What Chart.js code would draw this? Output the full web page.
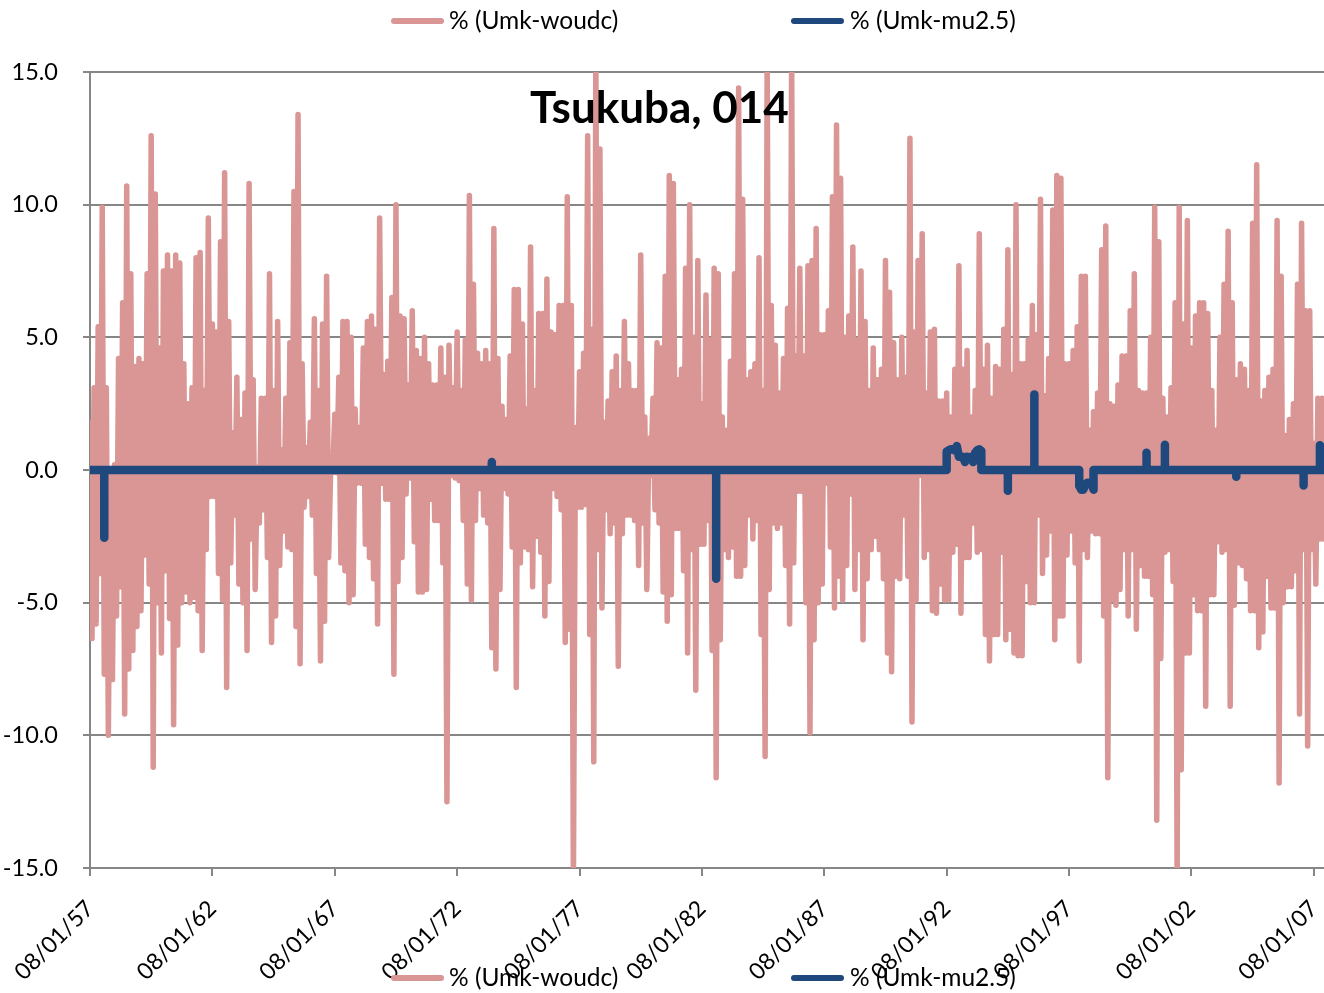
<!DOCTYPE html>
<html>
<head>
<meta charset="utf-8">
<script src="https://cdn.jsdelivr.net/npm/chart.js@4"></script>
<style>
html,body{margin:0;padding:0;background:#fff;overflow:hidden}
#wrap{position:relative;width:1324px;height:993px;font-family:Lato,"Open Sans",sans-serif}
canvas{position:absolute;left:0;top:0}
.title{position:absolute;left:530px;top:78px;font-weight:700;font-size:44px;line-height:56px;color:#000;white-space:nowrap}
.lg{position:absolute;font-size:24.5px;line-height:30px;color:#000;white-space:nowrap}
.sw{position:absolute;height:6px;border-radius:3px}
</style>
</head>
<body>
<div id="wrap">
<canvas id="c" width="1324" height="993"></canvas>
<div class="title" id="t"></div>
<div id="legends"></div>
</div>
<script>
const chartTitle = "Tsukuba, 014";
const seriesNames = ["% (Umk-woudc)", "% (Umk-mu2.5)"];
const tickDates = ["08/01/57","08/01/62","08/01/67","08/01/72","08/01/77","08/01/82","08/01/87","08/01/92","08/01/97","08/01/02","08/01/07"];

// % (Umk-woudc), month by month
const woudc1957 = [1.8,-6.35,3.1,-5.8,5.4,-3.9,9.9,-7.7,3.1,-10,0,-7.9,0.2,-5.5,4.2,-4.4,6.3,-9.2,10.7,-7.5,7.4,-6.8,3.9,-5.9,4.2,-5.3,4,-3.2,7.4,-4.3,12.6,-11.2,10.4,-5,4.6,-6.9,7.5,-3.8,8.1,-5.6,7.5,-9.6,8.1,-6.6,7.8,-5,4,-4.6,2.5,-5,3.1,-4.8,8,-5.3,8.2,-6.8,3,-3,9.5,-1];
const woudc1962 = [5.5,-1,5.2,-3.9,8.6,-4.9,11.2,-8.2,5.6,-3.5,1.4,-1.7,3.5,-4.3,1.9,-5,2.9,-6.8,10.8,-2.6,3.4,-4.5,0.1,-2,2.7,-1.5,2.7,-3.3,7.4,-6.5,3,-5.5,5.6,-3.6,0.75,-2.3,2.7,-2.9,4.8,-3,10.5,-5.9,13.4,-7.3,4,-1.4,0.85,-1,1.8,-1.7,5.7,-3.9,3,-7.2,5.5,-5.7,7.3,-3.3,0,-0.1];
const woudc1967 = [2.1,-0.1,3.5,-3.5,5.6,-3.8,5.6,-5,5,-4.7,2.3,-0.5,1.6,-0.5,4.6,-2.8,5.6,-3.3,5.8,-4.1,5.3,-5.8,9.5,-0.5,3.6,-1.1,4.1,-1.1,6.5,-7.7,10,-4.2,5.8,-3.3,5.7,-0.9,3.2,-0.3,6,-2.7,4.5,-4.6,4.2,-4.6,5,-4.5,4,-1.1,3.2,-1.9,3.2,-1.9,4.6,-3.5,3.5,-12.5,4.7,-0.2,3.1,-0.3];
const woudc1972 = [5.2,-0.4,3,-1.9,4.9,-4.3,10.35,-4.9,7,-1.9,4.4,-0.7,4,-1.7,4.5,-2,4,-6.7,9.1,-7.5,4.2,-4.5,2.4,-0.7,1.9,-0.9,4.3,-2.9,6.8,-8.2,6.8,-3.5,5.5,-2.9,2.3,-3,8.4,-4.4,3,-2.5,5.9,-3.1,5.9,-5.5,7.2,-4.2,5.2,-0.7,5.1,-1,6.2,-1.5,6.2,-6.5,10.3,-6,6.2,-15.6,1.6,-1.4];
const woudc1977 = [3.7,-1.4,4.4,-1.3,12.6,-6.2,5.3,-11,15.6,-3,12.1,-5.2,1.8,-1.5,2.6,-2.4,3.7,-2,4.3,-7.4,3,-2.4,5.6,-1.7,4,-1.7,3,-1.9,3,-3.6,8.1,-2,2,-4.5,1.2,-0.2,2.7,-1.5,4.8,-2,4.6,-4.6,7.3,-5.7,11.1,-4.7,10.8,-2.2,3.4,-2.2,3.8,-3.8,7.6,-6.9,10,-3,5,-8.3,7.9,-2.8];
const woudc1982 = [2.5,-2.8,6.6,-1.9,4.9,-6.8,7.6,-11.6,7.4,-6.4,2,-3,1.5,-3.3,4.1,-2.9,7.4,-4,14.4,-4,10.2,-3.6,3.4,-1.7,3.7,-2.6,4,-1.9,8,-6.2,3,-10.8,15.6,-4.5,6.2,-2,4.7,-2.2,2.9,-2,4.2,-3.6,6.1,-5.8,15.6,-3.5,4.3,-0.8,7.6,-0.8,4.3,-5,7.7,-9.9,7.9,-6.4,9.1,-5,5.1,-4.3];
const woudc1987 = [5.1,-0.5,6,-2.9,10.3,-5.2,13,-4,11,-4.9,5,-3.6,5.8,-0.9,8.4,-4.5,4.9,-3,7.5,-6.4,5.6,-4.1,3,-3,4.6,-2.5,3.4,-3,3.8,-4.1,7.9,-6.9,6.7,-7.6,4.8,-4,3.4,-4.1,5,-1.7,3.5,-4,12.5,-9.5,5.2,-4.9,7.9,-0.2,8.9,-3.3,2.9,-3,5.2,-5.3,5.3,-5.4,2.6,-4.3,2.6,-4.9];
const woudc1992 = [2.9,-4.9,2,-3.1,3.8,-2.8,7.7,-5.4,3.8,-3.3,4.5,-3.3,2,-2,3,-3.1,8.9,-3,3.8,-6.2,4.7,-7.2,2.7,-6.2,3.9,-6.2,3.8,-3.1,5.3,-6.4,8.3,-6,3.6,-6.9,10,-7,4,-7,4,-4.2,4.9,-5,6.2,-5,5.1,-1.7,10.2,-3.9,2.8,-3.2,4.2,-2.3,9.8,-6.4,11.1,-5.5,11,-5.5,4,-3.2];
const woudc1997 = [4,-2.3,4.5,-3.5,5.4,-7.2,7.3,-3,7.3,-3.3,1.5,-2.3,2.2,-2.4,2.9,-2.4,8.3,-5.5,9.2,-11.6,2.5,-4.9,2.4,-5.1,3.2,-4.5,4.3,-3,4.3,-5.5,6,-3,7.4,-6,3,-3.6,2.9,-4,2.9,-4,5,-4.7,9.9,-13.2,8.6,-7.1,2.7,-3.1,2,-3,3.1,-4.2,6.3,-15.6,9.9,-11.3,5.5,-6.9,9.4,-6.9];
const woudc2002 = [4.6,-4.7,5.8,-5.3,6.3,-5.3,6.3,-8.9,5.9,-4.7,3,-4.7,1.5,-2.7,5,-3.1,7,-3,9,-8.9,6.3,-5.1,3.4,-3.5,4,-3.6,3.8,-4.1,3,-5.3,9.3,-5.3,11.5,-6.7,2.6,-6.1,3,-4,3.5,-5.2,3.8,-5.2,9.4,-11.8,7.3,-5,1.3,-4.4,1.9,-4.4,2.5,-3.8,7,-9.2,9.3,-3,6,-10.4,6,-3];
const woudc2007 = [1,-4.3,2.7,-2.6,2.7,-2.6];

// % (Umk-mu2.5) is zero except in these months (month number since 08/1957)
const muMonths = [7,197,307,420,421,422,423,424,425,426,427,428,429,430,431,432,433,434,435,436,437,450,463,485,486,487,488,489,490,491,492,518,527,562,595,603];
const muValues = [-2.55,0.3,-4.1,0.7,0.74,0.78,0.78,0.74,0.9,0.5,0.5,0.5,0.3,0.5,0.45,0.5,0.3,0.65,0.74,0.78,0.72,-0.78,2.85,-0.6,-0.74,-0.74,-0.55,-0.48,-0.48,-0.48,-0.74,0.65,0.95,-0.25,-0.58,0.93];

const woudc = [].concat(woudc1957,woudc1962,woudc1967,woudc1972,woudc1977,woudc1982,woudc1987,woudc1992,woudc1997,woudc2002,woudc2007);
const woudcPts = woudc.map((y,x)=>({x,y}));
const lastMonth = woudc.length-1;
const muPts = [];
{
  const at = new Map(muMonths.map((m,i)=>[m,muValues[i]]));
  for(let m=0;m<=lastMonth;m++){
    const v = at.get(m);
    if(v===undefined){ muPts.push({x:m,y:0}); continue; }
    if(!at.has(m-1)) muPts.push({x:m,y:0});
    muPts.push({x:m,y:v});
    if(!at.has(m+1)) muPts.push({x:m,y:0});
  }
}
const PINK="#D99694", NAVY="#1F497D", GRID="#868686";

document.getElementById('t').textContent = chartTitle;
const lgHost = document.getElementById('legends');
[20.5,977.5].forEach(cy=>{
  [[391,449,PINK,0],[791,850,NAVY,1]].forEach(([sx,tx,col,i])=>{
    const s=document.createElement('div');s.className='sw';
    s.style.cssText=`left:${sx}px;top:${cy-3}px;width:53px;background:${col}`;
    lgHost.appendChild(s);
    const d=document.createElement('div');d.className='lg';
    d.style.cssText=`left:${tx}px;top:${cy-15.5}px`;
    d.textContent=seriesNames[i];
    lgHost.appendChild(d);
  });
});

new Chart(document.getElementById('c'),{
  type:'line',
  data:{datasets:[
    {label:seriesNames[0],data:woudcPts,borderColor:PINK,backgroundColor:PINK,borderWidth:5.5,pointRadius:0,tension:0,borderJoinStyle:'round',borderCapStyle:'round',order:2},
    {label:seriesNames[1],data:muPts,borderColor:NAVY,backgroundColor:NAVY,borderWidth:8.5,pointRadius:0,tension:0,borderJoinStyle:'round',borderCapStyle:'round',order:1}
  ]},
  options:{
    responsive:false,animation:false,parsing:false,normalized:true,
    layout:{padding:{top:72,right:0,left:0,bottom:0}},
    plugins:{legend:{display:false},title:{display:false},tooltip:{enabled:false},decimation:{enabled:false}},
    scales:{
      x:{type:'linear',min:0,max:lastMonth,
        afterFit:s=>{s.height=125;s.paddingRight=0;s.paddingLeft=0;},
        afterBuildTicks:s=>{s.ticks=tickDates.map((_,i)=>({value:i*60}));},
        grid:{drawOnChartArea:false,drawTicks:true,tickLength:8,tickColor:GRID,tickWidth:2,color:GRID,lineWidth:2},
        border:{color:GRID,width:2},
        ticks:{color:'#000',font:{family:'Lato',size:23},maxRotation:45,minRotation:45,padding:19,autoSkip:false,callback:v=>tickDates[v/60]}
      },
      y:{min:-15,max:15,
        afterFit:s=>{s.width=90;},
        grid:{color:GRID,lineWidth:2,tickLength:7,tickColor:GRID,tickWidth:2},
        border:{color:GRID,width:2},
        ticks:{color:'#000',font:{family:'Lato',size:23.5},stepSize:5,padding:25,callback:v=>v.toFixed(1)}
      }
    }
  }
});
</script>
</body>
</html>
